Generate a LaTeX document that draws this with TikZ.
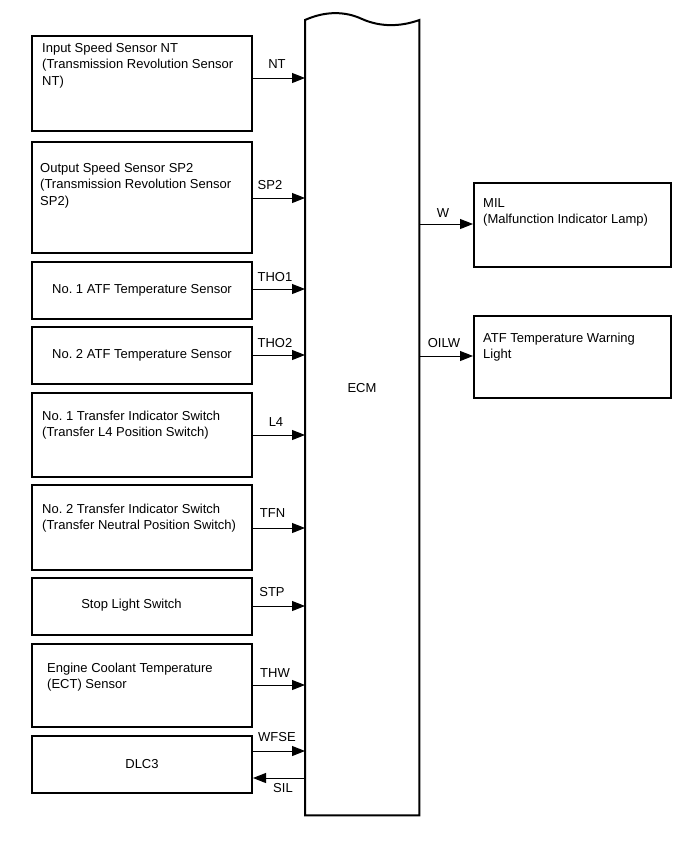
\documentclass[tikz,border=0pt]{standalone}
\usepackage{fontspec}
\setmainfont{Liberation Sans}
\usetikzlibrary{arrows.meta}
\frenchspacing
\begin{document}
\begin{tikzpicture}[x=1pt,y=-1pt,
  box/.style={draw,line width=2pt,inner sep=0pt,anchor=north west,minimum width=220pt},
  rbox/.style={draw,line width=2pt,inner sep=0pt,anchor=north west,minimum width=197pt},
  txt/.style={inner sep=0pt,anchor=north west,align=left,font=\fontsize{13}{16.5}\selectfont},
  ctxt/.style={font=\fontsize{13}{16.5}\selectfont},
  lbl/.style={inner sep=0pt,anchor=base,font=\fontsize{13}{16}\selectfont},
  sig/.style={line width=1pt,-{Triangle[length=13pt,width=10pt]}}]
\useasboundingbox (0,0) rectangle (690,855);

% ECM
\node[inner sep=0pt,minimum width=114pt,minimum height=795pt,anchor=north west] (ecm) at (305,20) {};
\draw[line width=2pt] (ecm.north west) .. controls (325,11) and (345,11) .. (362,19)
   .. controls (380,27) and (400,27) .. (ecm.north east) -- (ecm.south east) -- (ecm.south west) -- cycle;
\node[lbl] (ecmlbl) at (362,392) {ECM};

% left boxes
\node[box,minimum height=95pt] (b1) at (31,35) {};
\node[txt] (t1) at (42,40.5) {\strut Input Speed Sensor NT\\(Transmission Revolution Sensor\\NT)};
\node[box,minimum height=111pt] (b2) at (31,141) {};
\node[txt] (t2) at (40,160.5) {\strut Output Speed Sensor SP2\\(Transmission Revolution Sensor\\SP2)};
\node[box,minimum height=57pt] (b3) at (31,261) {};
\node[ctxt] (t3) at (b3.center) {No. 1 ATF Temperature Sensor};
\node[box,minimum height=57pt] (b4) at (31,326) {};
\node[ctxt] (t4) at (b4.center) {No. 2 ATF Temperature Sensor};
\node[box,minimum height=84pt] (b5) at (31,392) {};
\node[txt] (t5) at (42,408.5) {\strut No. 1 Transfer Indicator Switch\\(Transfer L4 Position Switch)};
\node[box,minimum height=85pt] (b6) at (31,484) {};
\node[txt] (t6) at (42,501.5) {\strut No. 2 Transfer Indicator Switch\\(Transfer Neutral Position Switch)};
\node[box,minimum height=57pt] (b7) at (31,577) {};
\node[ctxt] (t7) at (131.5,605.5) {Stop Light Switch};
\node[box,minimum height=83pt] (b8) at (31,643) {};
\node[txt] (t8) at (47,660.5) {\strut Engine Coolant Temperature\\(ECT) Sensor};
\node[box,minimum height=57pt] (b9) at (31,735) {};
\node[ctxt] (t9) at (b9.center) {DLC3};

% right boxes
\node[rbox,minimum height=84pt] (mil) at (473,182) {};
\node[txt] (tm) at (483,195.5) {\strut MIL\\(Malfunction Indicator Lamp)};
\node[rbox,minimum height=82pt] (atf) at (473,315) {};
\node[txt] (ta) at (483,330.5) {\strut ATF Temperature Warning\\Light};

% connectors
\draw[sig] (b1.east |- 0,78) -- (ecm.west |- 0,78);
\node[lbl] (lnt) at (277,68) {NT};
\draw[sig] (b2.east |- 0,198) -- (ecm.west |- 0,198);
\node[lbl] (lsp2) at (270,189) {SP2};
\draw[sig] (b3.east |- 0,289) -- (ecm.west |- 0,289);
\node[lbl] (ltho1) at (275,281) {THO1};
\draw[sig] (b4.east |- 0,355) -- (ecm.west |- 0,355);
\node[lbl] (ltho2) at (275,347.5) {THO2};
\draw[sig] (b5.east |- 0,435) -- (ecm.west |- 0,435);
\node[lbl] (ll4) at (276,426) {L4};
\draw[sig] (b6.east |- 0,528) -- (ecm.west |- 0,528);
\node[lbl] (ltfn) at (272.5,517) {TFN};
\draw[sig] (b7.east |- 0,606) -- (ecm.west |- 0,606);
\node[lbl] (lstp) at (272,596) {STP};
\draw[sig] (b8.east |- 0,685) -- (ecm.west |- 0,685);
\node[lbl] (lthw) at (275,677) {THW};
\draw[sig] (b9.east |- 0,751) -- (ecm.west |- 0,751);
\node[lbl] (lwfse) at (277,741) {WFSE};
\draw[sig] (ecm.west |- 0,778) -- (b9.east |- 0,778);
\node[lbl] (lsil) at (283,792) {SIL};

\draw[sig] (ecm.east |- 0,224) -- (mil.west |- 0,224);
\node[lbl] (lw) at (443,217) {W};
\draw[sig] (ecm.east |- 0,356) -- (atf.west |- 0,356);
\node[lbl] (loilw) at (444,347) {OILW};
\end{tikzpicture}
\end{document}
